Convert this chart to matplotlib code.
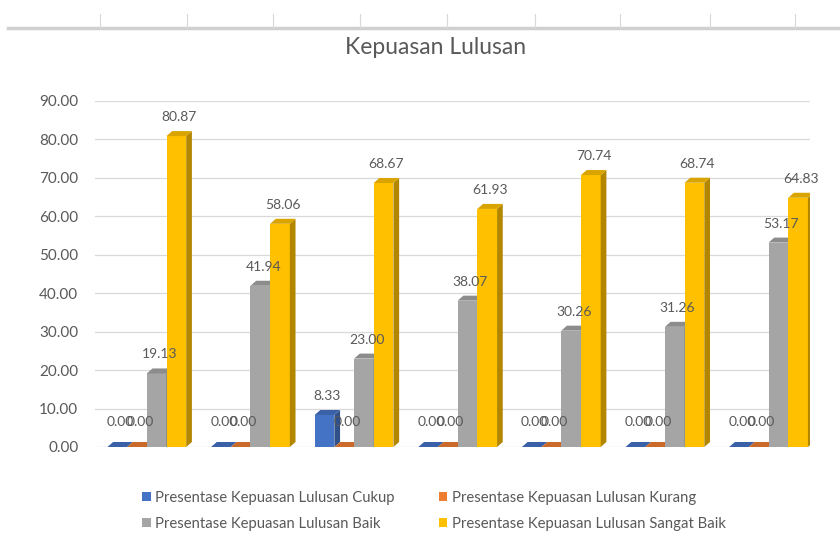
import numpy as np
import matplotlib.pyplot as plt
from matplotlib.patches import Polygon
from matplotlib.lines import Line2D
from matplotlib.colors import to_rgb

plt.rcParams['font.family'] = ['Lato', 'DejaVu Sans']

groups = np.arange(7)
series_names = ["Presentase Kepuasan Lulusan Cukup",
                "Presentase Kepuasan Lulusan Kurang",
                "Presentase Kepuasan Lulusan Baik",
                "Presentase Kepuasan Lulusan Sangat Baik"]
cukup = [0.00, 0.00, 8.33, 0.00, 0.00, 0.00, 0.00]
kurang = [0.00, 0.00, 0.00, 0.00, 0.00, 0.00, 0.00]
baik = [19.13, 41.94, 23.00, 38.07, 30.26, 31.26, 53.17]
sangat_baik = [80.87, 58.06, 68.67, 61.93, 70.74, 68.74, 64.83]
colors = ["#4472C4", "#ED7D31", "#A5A5A5", "#FFC000"]

text_col = "#595959"

fig = plt.figure(figsize=(8.4, 5.45), dpi=100)
ax = fig.add_axes([95 / 840, 98 / 545, 715 / 840, 346 / 545])

width = 0.19
dx, dy = 0.055, 1.3  # fake 3d depth


def darker(c, f):
    r, g, b = to_rgb(c)
    return (r * f, g * f, b * f)


all_series = [cukup, kurang, baik, sangat_baik]
handles = []
for i, (vals, col) in enumerate(zip(all_series, colors)):
    offs = (i - 1.5) * width
    xs = groups + offs
    h = ax.bar(xs, vals, width=width, color=col, edgecolor='none', zorder=3 + i,
               label=series_names[i])
    handles.append(h)
    for x, v in zip(xs, vals):
        x0, x1 = x - width / 2, x + width / 2
        side = Polygon([(x1, 0), (x1 + dx, dy), (x1 + dx, v + dy), (x1, v)],
                       closed=True, facecolor=darker(col, 0.7), edgecolor='none',
                       zorder=3 + i)
        top = Polygon([(x0, v), (x0 + dx, v + dy), (x1 + dx, v + dy), (x1, v)],
                      closed=True, facecolor=darker(col, 0.85), edgecolor='none',
                      zorder=3 + i)
        ax.add_patch(side)
        ax.add_patch(top)
        off = 14 if v > 0 else 20
        ax.annotate("%.2f" % v, (x + dx / 2, v + dy), xytext=(0, off),
                    textcoords='offset pixels', ha='center', va='center',
                    fontsize=10, color=text_col, zorder=20)

ax.set_xlim(-0.5, 6.4)
ax.set_ylim(0, 90)
ax.set_yticks(np.arange(0, 91, 10))
ax.set_yticklabels(["%.2f" % t for t in np.arange(0, 91, 10)])
ax.set_xticks([])
ax.tick_params(axis='y', length=0, labelsize=11, labelcolor=text_col, pad=12)
ax.grid(axis='y', color='#D9D9D9', linewidth=0.9, zorder=0)
for s in ax.spines.values():
    s.set_visible(False)

fig.text(436 / 840, 1 - 48 / 545, "Kepuasan Lulusan", ha='center', va='center',
         fontsize=16.5, color=text_col)

# sheet header strip at the very top
fig.add_artist(Line2D([0.01, 1], [1 - 28 / 545, 1 - 28 / 545], color='#D0D0D0',
                      linewidth=2.5, transform=fig.transFigure))
for tx in [100, 187, 273, 360, 447, 535, 620, 710, 795]:
    fig.add_artist(Line2D([tx / 840, tx / 840], [1 - 28 / 545, 1 - 14 / 545],
                          color='#D8D8D8', linewidth=0.8, transform=fig.transFigure))

order = [0, 2, 1, 3]
leg = fig.legend([handles[k] for k in order], [series_names[k] for k in order],
                 loc='center', bbox_to_anchor=(434 / 840, 1 - 511 / 545), ncol=2,
                 frameon=False, fontsize=10.7, handlelength=0.55, handleheight=0.55,
                 handletextpad=0.3, columnspacing=3.0, labelspacing=0.8)
for t in leg.get_texts():
    t.set_color(text_col)

fig.savefig("out.png", dpi=100, facecolor='white')
